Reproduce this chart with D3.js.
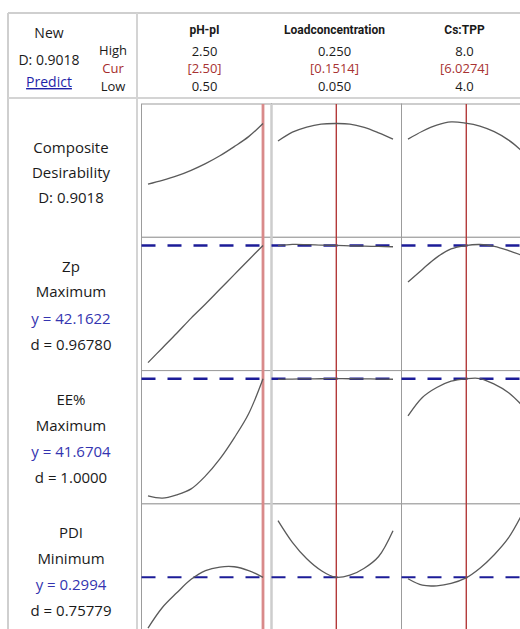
<!DOCTYPE html>
<html>
<head>
<meta charset="utf-8">
<script src="https://cdn.jsdelivr.net/npm/d3@7/dist/d3.min.js"></script>
<style>
  html, body { margin: 0; padding: 0; background: #fff; }
  svg { display: block; }
  text { font-family: "Open Sans", "Noto Sans", sans-serif; fill: #1a1a1a; }
  .fac { font-family: "Liberation Sans Narrow", "Roboto", sans-serif; font-weight: bold; }
</style>
</head>
<body>
<svg id="chart" width="520" height="629"></svg>
<script>
// Factor settings shown in the header
const factorNames = ["pH-pI", "Loadconcentration", "Cs:TPP"];
const highLabels = ["2.50", "0.250", "8.0"];
const curLabels = ["[2.50]", "[0.1514]", "[6.0274]"];
const lowLabels = ["0.50", "0.050", "4.0"];
const lowValues = [0.5, 0.05, 4.0];
const highValues = [2.5, 0.25, 8.0];
const curValues = [2.5, 0.1514, 6.0274];

// Factor grids at which each response trace is evaluated
const phGrid = [0.5, 0.75, 1.0, 1.25, 1.5, 1.75, 2.0, 2.25, 2.5];
const loadGrid = [0.05, 0.075, 0.1, 0.125, 0.15, 0.175, 0.2, 0.225, 0.25];
const ratioGrid = [4.0, 4.5, 5.0, 5.5, 6.0, 6.5, 7.0, 7.5, 8.0];

// Response rows
const responseNames = ["Composite", "Zp", "EE%", "PDI"];
const goalNames = ["Desirability", "Maximum", "Maximum", "Minimum"];
const predictedY = [0.9018, 42.1622, 41.6704, 0.2994];
const predictedLabels = ["D: 0.9018", "y = 42.1622", "y = 41.6704", "y = 0.2994"];
const dLabels = ["", "d = 0.96780", "d = 1.0000", "d = 0.75779"];
const rowDomains = [[0, 1], [19.8, 42.2], [10, 41.7], [0.211, 0.411]];

// Traces: one array per factor (pH-pI, Loadconcentration, Cs:TPP)
const compositeD = [
  [0.385, 0.417, 0.455, 0.503, 0.560, 0.627, 0.705, 0.790, 0.9018],
  [0.752, 0.828, 0.872, 0.897, 0.9018, 0.897, 0.868, 0.822, 0.769],
  [0.769, 0.836, 0.888, 0.915, 0.905, 0.880, 0.832, 0.760, 0.660]
];
const zpTrace = [
  [19.8, 22.6, 25.4, 28.3, 31.0, 33.8, 36.6, 39.4, 42.1622],
  [42.12, 42.36, 42.33, 42.24, 42.17, 42.10, 42.04, 41.98, 41.92],
  [35.2, 37.6, 39.9, 41.5, 42.15, 42.35, 42.0, 41.2, 40.2]
];
const eeTrace = [
  [10.0, 9.4, 10.3, 11.9, 15.4, 20.0, 25.7, 32.2, 41.6704],
  [41.50, 41.58, 41.63, 41.66, 41.67, 41.66, 41.63, 41.58, 41.52],
  [31.6, 36.6, 39.3, 41.0, 41.64, 41.72, 40.2, 37.9, 34.2]
];
const pdiTrace = [
  [0.213, 0.248, 0.273, 0.296, 0.311, 0.317, 0.3175, 0.311, 0.2994],
  [0.396, 0.359, 0.331, 0.311, 0.2995, 0.303, 0.315, 0.335, 0.379],
  [0.297, 0.286, 0.285, 0.289, 0.298, 0.315, 0.338, 0.367, 0.410]
];

const grids = [phGrid, loadGrid, ratioGrid];
const traces = [compositeD, zpTrace, eeTrace, pdiTrace];

const svg = d3.select("#chart");

// Layout
const frameL = 8, frameT = 13;
const labelR = 137;
const headerB = 98;
const plotL = 141.5, plotT = 104;
const colW = 130, rowH = 133.3;
const colPad = 6.5, rowPad = 8;

const xScales = factorNames.map((_, j) =>
  d3.scaleLinear().domain([lowValues[j], highValues[j]])
    .range([plotL + j * colW + colPad, plotL + (j + 1) * colW - colPad - 2]));
const yScales = rowDomains.map((dom, i) =>
  d3.scaleLinear().domain(dom)
    .range([plotT + (i + 1) * rowH - rowPad, plotT + i * rowH + rowPad]));

// Frame lines
const frame = svg.append("g").attr("fill", "none");
frame.append("line").attr("x1", frameL).attr("x2", 520).attr("y1", frameT).attr("y2", frameT)
  .attr("stroke", "#cfcfcf").attr("stroke-width", 2);
frame.append("line").attr("x1", frameL).attr("x2", frameL).attr("y1", frameT).attr("y2", 629)
  .attr("stroke", "#cfcfcf").attr("stroke-width", 2);
frame.append("line").attr("x1", labelR).attr("x2", labelR).attr("y1", frameT).attr("y2", 629)
  .attr("stroke", "#d4d4d4").attr("stroke-width", 2);
frame.append("line").attr("x1", frameL).attr("x2", 520).attr("y1", headerB).attr("y2", headerB)
  .attr("stroke", "#d4d4d4").attr("stroke-width", 2);

// Plot cells
const cells = svg.append("g");
for (let i = 0; i < 4; i++) {
  for (let j = 0; j < 3; j++) {
    cells.append("rect")
      .attr("x", plotL + j * colW).attr("y", plotT + i * rowH)
      .attr("width", colW).attr("height", rowH)
      .attr("fill", "#fff").attr("stroke", "#9c9c9c").attr("stroke-width", 1);
  }
}
// lighter double edge after first column
cells.append("line").attr("x1", plotL + colW).attr("x2", plotL + colW)
  .attr("y1", plotT).attr("y2", 629).attr("stroke", "#cdcdcd").attr("stroke-width", 2.5);

// Header: left block
const hdr = svg.append("g").attr("font-size", 14);
hdr.append("text").attr("x", 49).attr("y", 38).attr("text-anchor", "middle").text("New");
hdr.append("text").attr("x", 49).attr("y", 65).attr("text-anchor", "middle").text("D: " + predictedY[0].toFixed(4));
hdr.append("text").attr("x", 49).attr("y", 87).attr("text-anchor", "middle")
  .attr("text-decoration", "underline").style("fill", "#1f1fa8").text("Predict");
const hcl = svg.append("g").attr("font-size", 13).attr("text-anchor", "middle");
hcl.append("text").attr("x", 113).attr("y", 55).text("High");
hcl.append("text").attr("x", 113).attr("y", 72.5).style("fill", "#a52a2a").text("Cur");
hcl.append("text").attr("x", 113).attr("y", 90.5).text("Low");

// Header: factor columns
factorNames.forEach((name, j) => {
  const cx = plotL + j * colW + colW / 2 - 2;
  hcl.append("text").attr("class", "fac").attr("x", cx).attr("y", 34)
    .attr("font-size", 12).text(name);
  hcl.append("text").attr("x", cx).attr("y", 55.5).text(highLabels[j]);
  hcl.append("text").attr("x", cx).attr("y", 72.5).style("fill", "#a83232").text(curLabels[j]);
  hcl.append("text").attr("x", cx).attr("y", 90.5).text(lowLabels[j]);
});

// Row labels
const lab = svg.append("g").attr("font-size", 15).attr("text-anchor", "middle");
const labX = 71;
lab.append("text").attr("x", labX).attr("y", 153).text("Composite");
lab.append("text").attr("x", labX).attr("y", 178).text("Desirability");
lab.append("text").attr("x", labX).attr("y", 203).text(predictedLabels[0]);
for (let i = 1; i < 4; i++) {
  const top = plotT + i * rowH;
  lab.append("text").attr("x", labX).attr("y", top + 34.5).text(responseNames[i]);
  lab.append("text").attr("x", labX).attr("y", top + 60).text(goalNames[i]);
  lab.append("text").attr("x", labX).attr("y", top + 86.5).style("fill", "#3434b0").text(predictedLabels[i]);
  lab.append("text").attr("x", labX).attr("y", top + 112.5).text(dLabels[i]);
}

// Target (predicted response) lines
const dashG = svg.append("g");
for (let i = 1; i < 4; i++) {
  dashG.append("line")
    .attr("x1", plotL).attr("x2", 520)
    .attr("y1", yScales[i](predictedY[i])).attr("y2", yScales[i](predictedY[i]))
    .attr("stroke", "#1c1c98").attr("stroke-width", i === 3 ? 2 : 2.6)
    .attr("stroke-dasharray", "14,12");
}

// Current factor settings
const curG = svg.append("g");
curValues.forEach((v, j) => {
  const atBound = v === highValues[j] || v === lowValues[j];
  curG.append("line")
    .attr("x1", xScales[j](v)).attr("x2", xScales[j](v))
    .attr("y1", plotT).attr("y2", 629)
    .attr("stroke", atBound ? "#d98a8a" : "#b33a3a")
    .attr("stroke-width", atBound ? 2.8 : 1.4);
});

// Response traces
const traceG = svg.append("g").attr("fill", "none").attr("stroke", "#5a5a5a").attr("stroke-width", 1.3);
traces.forEach((rowTr, i) => {
  rowTr.forEach((vals, j) => {
    const line = d3.line()
      .x((d, k) => xScales[j](grids[j][k]))
      .y(d => yScales[i](d))
      .curve(d3.curveCatmullRom.alpha(0.5));
    traceG.append("path").attr("d", line(vals));
  });
});
</script>
</body>
</html>
